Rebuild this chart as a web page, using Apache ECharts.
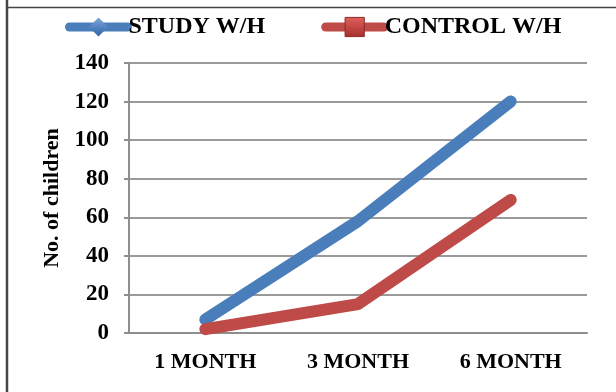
<!DOCTYPE html>
<html>
<head>
<meta charset="utf-8">
<script src="https://cdn.jsdelivr.net/npm/echarts@6/dist/echarts.min.js"></script>
<style>
  html, body { margin: 0; padding: 0; background: #fff; }
  #chart { width: 616px; height: 392px; }
</style>
</head>
<body>
<div id="chart"></div>
<script>
// Follow-up periods
const categories = ['1 MONTH', '3 MONTH', '6 MONTH'];
// Children counts per group
const studyWH = [7, 58, 120];
const controlWH = [2, 15, 69];
// Value axis
const yMin = 0;
const yMax = 140;
const yStep = 20;

const FONT = 'Liberation Serif';
const BLUE = '#4a7ebb';
const RED = '#be4b48';
// Square-proportioned diamond marker
const DIAMOND = 'path://M10,0L20,10L10,20L0,10Z';

const chart = echarts.init(document.getElementById('chart'), null, { renderer: 'canvas' });

chart.setOption({
  backgroundColor: '#ffffff',
  animation: false,
  textStyle: { fontFamily: FONT },
  graphic: [
    { type: 'line', shape: { x1: 7, y1: 0, x2: 7, y2: 392 }, style: { stroke: '#454545', lineWidth: 2.5 } },
    { type: 'line', shape: { x1: 6, y1: 7.5, x2: 616, y2: 7.5 }, style: { stroke: '#454545', lineWidth: 1.5 } }
  ],
  legend: {
    left: 60,
    top: 10,
    itemWidth: 58,
    itemHeight: 24,
    itemGap: 56,
    lineStyle: { width: 9, cap: 'round' },
    textStyle: { fontFamily: FONT, fontWeight: 'bold', fontSize: 24, color: '#000', padding: [0, 0, 0, -4] },
    data: [
      {
        name: 'STUDY W/H',
        itemStyle: {
          color: new echarts.graphic.LinearGradient(0, 0, 0, 1, [
            { offset: 0, color: '#7ea6dc' },
            { offset: 1, color: '#2f64a8' }
          ])
        }
      },
      {
        name: 'CONTROL W/H',
        itemStyle: {
          color: new echarts.graphic.LinearGradient(0, 0, 0, 1, [
            { offset: 0, color: '#e0605c' },
            { offset: 1, color: '#a62f2c' }
          ]),
          borderColor: '#8c2a28',
          borderWidth: 1
        }
      }
    ]
  },
  grid: { left: 129, right: 29, top: 63, bottom: 59 },
  xAxis: {
    type: 'category',
    data: categories,
    boundaryGap: true,
    axisLine: { show: true, lineStyle: { color: '#8e8e8e', width: 2 } },
    axisTick: { show: false },
    axisLabel: { fontFamily: FONT, fontWeight: 'bold', fontSize: 22, color: '#000', margin: 18 }
  },
  yAxis: {
    type: 'value',
    min: yMin,
    max: yMax,
    interval: yStep,
    name: 'No. of children',
    nameLocation: 'middle',
    nameGap: 66,
    nameRotate: 90,
    nameTextStyle: { fontFamily: FONT, fontWeight: 'bold', fontSize: 22, color: '#000' },
    axisLine: { show: true, lineStyle: { color: '#8e8e8e', width: 2 } },
    axisTick: { show: true, length: 5, lineStyle: { color: '#8e8e8e', width: 2 } },
    axisLabel: { fontFamily: FONT, fontWeight: 'bold', fontSize: 23, color: '#000', margin: 20 },
    splitLine: { show: true, lineStyle: { color: '#9a9a9a', width: 2 } }
  },
  series: [
    {
      name: 'STUDY W/H',
      type: 'line',
      data: studyWH,
      symbol: DIAMOND,
      symbolSize: 20,
      showSymbol: false,
      color: BLUE,
      lineStyle: { color: BLUE, width: 12, cap: 'round', join: 'round' }
    },
    {
      name: 'CONTROL W/H',
      type: 'line',
      data: controlWH,
      symbol: 'rect',
      symbolSize: 18,
      showSymbol: false,
      color: RED,
      lineStyle: { color: RED, width: 12, cap: 'round', join: 'round' }
    }
  ]
});
</script>
</body>
</html>
